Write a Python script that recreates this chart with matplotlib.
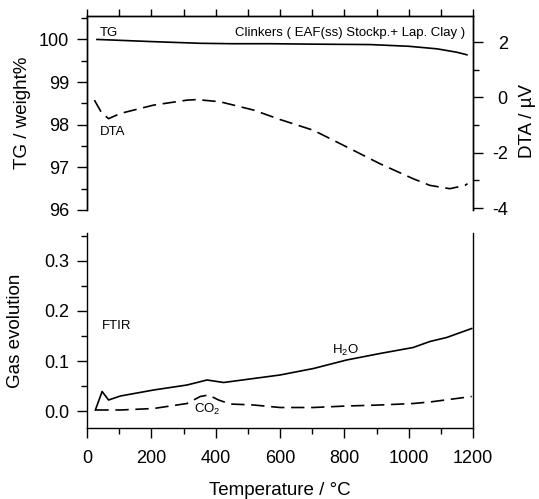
import matplotlib
matplotlib.use("Agg")
import matplotlib.pyplot as plt
from matplotlib.ticker import MultipleLocator

plt.rcParams['font.family'] = ['Liberation Sans', 'DejaVu Sans']
plt.rcParams['axes.unicode_minus'] = False
plt.rcParams['mathtext.default'] = 'regular'

# ---- data ----
T_tg = [31, 100, 200, 351, 450, 569, 700, 880, 1000, 1088, 1150, 1181]
tg = [100.0, 99.98, 99.95, 99.91, 99.90, 99.90, 99.89, 99.88, 99.84, 99.78, 99.70, 99.64]

T_dta = [23, 45, 67, 104, 207, 311, 342, 414, 518, 600, 704, 807, 911, 1014, 1066, 1128, 1175, 1183]
dta = [-0.10, -0.55, -0.77, -0.58, -0.28, -0.10, -0.08, -0.16, -0.46, -0.80, -1.19, -1.79,
       -2.40, -2.94, -3.18, -3.30, -3.18, -3.12]

T_h2o = [26, 47, 67, 104, 207, 311, 373, 425, 518, 600, 704, 807, 911, 1014, 1066, 1118, 1196]
h2o = [0.002, 0.039, 0.022, 0.030, 0.042, 0.052, 0.062, 0.057, 0.065, 0.072, 0.085, 0.102,
       0.115, 0.127, 0.139, 0.147, 0.165]

T_co2 = [26, 104, 207, 311, 352, 378, 409, 445, 518, 600, 704, 807, 911, 1014, 1066, 1196]
co2 = [0.002, 0.002, 0.005, 0.015, 0.029, 0.032, 0.022, 0.014, 0.012, 0.007, 0.007, 0.010,
       0.012, 0.015, 0.018, 0.029]

x_ticks = [0, 200, 400, 600, 800, 1000, 1200]
tg_ticks = [96, 97, 98, 99, 100]
dta_ticks = [-4, -2, 0, 2]
gas_ticks = [0.0, 0.1, 0.2, 0.3]

fig = plt.figure(figsize=(5.39, 4.99), dpi=100)
left, width = 87 / 539, (473 - 87) / 539
ax1 = fig.add_axes([left, 1 - 210 / 499, width, (210 - 16) / 499])
ax3 = fig.add_axes([left, 1 - 428 / 499, width, (428 - 233) / 499])

lw = 1.2
dash = (0, (8, 4))
tick_fs = 13
lab_fs = 13.5
ann_fs = 9.5

# ---- top panel ----
ax1.plot(T_tg, tg, color='black', lw=lw)
ax1.set_xlim(0, 1200)
ax1.set_ylim(96, 100.55)
ax1.spines['bottom'].set_visible(False)
ax1.set_yticks(tg_ticks)
ax1.set_yticklabels([str(v) for v in tg_ticks])
ax1.yaxis.set_minor_locator(MultipleLocator(0.5))
ax1.xaxis.set_major_locator(MultipleLocator(100))
ax1.tick_params(axis='x', which='both', bottom=False, top=True, labelbottom=False,
                labeltop=False, direction='out', length=5, width=1)
ax1.tick_params(axis='y', which='major', direction='out', length=7, width=1, pad=6, labelsize=tick_fs)
ax1.tick_params(axis='y', which='minor', direction='out', length=4, width=1)
ax1.set_ylabel('TG / weight%', fontsize=lab_fs)
ax1.yaxis.set_label_coords(-0.145, 0.5)

ax2 = ax1.twinx()
ax2.plot(T_dta, dta, color='black', lw=lw, linestyle=dash)
ax2.set_ylim(-4.07, 2.94)
ax2.spines['bottom'].set_visible(False)
ax2.set_yticks(dta_ticks)
ax2.set_yticklabels([str(v) for v in dta_ticks])
ax2.yaxis.set_minor_locator(MultipleLocator(1))
ax2.tick_params(axis='y', which='major', direction='out', length=7, width=1, pad=18, labelsize=tick_fs)
ax2.tick_params(axis='y', which='minor', direction='out', length=4, width=1)
for lab in ax2.get_yticklabels():
    lab.set_ha('right')
ax2.set_ylabel('DTA / \u00b5V', fontsize=lab_fs)
ax2.yaxis.set_label_coords(1.12, 0.46)

ax1.text(40, 100.16, 'TG', fontsize=ann_fs, va='center', ha='left')
ax1.text(1175, 100.16, 'Clinkers ( EAF(ss) Stockp.+ Lap. Clay )', fontsize=ann_fs, va='center', ha='right')
ax1.text(40, 97.84, 'DTA', fontsize=ann_fs, va='center', ha='left')

# ---- bottom panel ----
ax3.plot(T_h2o, h2o, color='black', lw=lw)
ax3.plot(T_co2, co2, color='black', lw=lw, linestyle=dash)
ax3.set_xlim(0, 1200)
ax3.set_ylim(-0.034, 0.356)
ax3.spines['top'].set_visible(False)
ax3.set_xticks(x_ticks)
ax3.set_xticklabels([str(v) for v in x_ticks])
ax3.xaxis.set_minor_locator(MultipleLocator(100))
ax3.set_yticks(gas_ticks)
ax3.set_yticklabels(['0.0', '0.1', '0.2', '0.3'])
ax3.yaxis.set_minor_locator(MultipleLocator(0.05))
ax3.tick_params(axis='x', which='major', direction='out', length=7, width=1, pad=9, labelsize=tick_fs)
ax3.tick_params(axis='x', which='minor', direction='out', length=4, width=1)
ax3.tick_params(axis='y', which='major', direction='out', length=7, width=1, pad=6, labelsize=tick_fs)
ax3.tick_params(axis='y', which='minor', direction='out', length=4, width=1)
ax3.set_ylabel('Gas evolution', fontsize=lab_fs)
ax3.yaxis.set_label_coords(-0.163, 0.5)
ax3.set_xlabel('Temperature / \u00b0C', fontsize=lab_fs)
ax3.xaxis.set_label_coords(0.5, -0.275)

ax3.text(47, 0.17, 'FTIR', fontsize=ann_fs, va='center', ha='left')
ax3.text(802, 0.122, 'H$_2$O', fontsize=ann_fs, va='center', ha='center')
ax3.text(373, 0.004, 'CO$_2$', fontsize=ann_fs, va='center', ha='center')

for ax in (ax1, ax2, ax3):
    for s in ax.spines.values():
        s.set_linewidth(1.0)

fig.savefig('out.png', dpi=100, facecolor='white')
